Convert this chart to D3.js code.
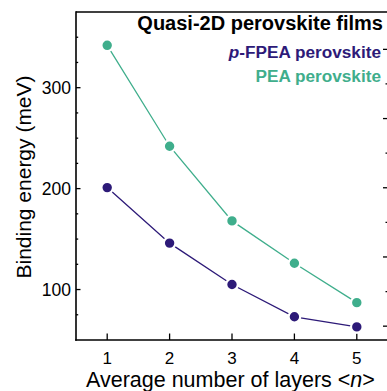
<!DOCTYPE html>
<html>
<head>
<meta charset="utf-8">
<script src="https://cdn.jsdelivr.net/npm/d3@7"></script>
<style>
  html, body { margin: 0; padding: 0; background: #fff; }
  svg { display: block; font-family: "Liberation Sans", Arial, Helvetica, sans-serif; }
</style>
</head>
<body>
<svg id="chart" width="387" height="391"></svg>
<script>
// Average number of layers <n>
const layers = [1, 2, 3, 4, 5];
// Exciton binding energy (meV)
const fpeaEnergy = [201, 146, 105, 73, 63];
const peaEnergy = [342, 242, 168, 126, 87];

const xTicks = [1, 2, 3, 4, 5];
const yMajorTicks = [100, 200, 300];
const yMinorTicks = [75, 125, 150, 175, 225, 250, 275, 325, 350];
// secondary (right) axis ticks, unlabeled
const rightMajorTicks = [1, 2, 3, 4, 5];
const rightMinorTicks = [1.5, 2.5, 3.5, 4.5];

const seriesNames = ["p-FPEA perovskite", "PEA perovskite"];
const titleText = "Quasi-2D perovskite films";

const colors = { fpea: "#2d1a78", pea: "#3fae8c" };

(function draw() {
  const svg = d3.select("#chart");
  const mLeft = 76, mRight = 388, mTop = 12, mBottom = 340;

  const x = d3.scaleLinear().domain([0.5, 5.5]).range([mLeft, mRight]);
  const y = d3.scaleLinear().domain([50, 375]).range([mBottom, mTop]);
  const y2 = d3.scaleLinear().domain([0.8, 5.54]).range([mBottom, mTop]);

  // frame
  const frame = svg.append("g").attr("stroke", "#000").attr("stroke-width", 1.6).attr("fill", "none");
  frame.append("line").attr("x1", mLeft).attr("x2", mLeft).attr("y1", mTop - 0.8).attr("y2", mBottom + 0.8);
  frame.append("line").attr("x1", mLeft).attr("x2", mRight + 2).attr("y1", mTop).attr("y2", mTop);
  frame.append("line").attr("x1", mLeft - 0.8).attr("x2", mRight + 2).attr("y1", mBottom).attr("y2", mBottom);
  frame.append("line").attr("x1", mRight).attr("x2", mRight).attr("y1", mTop).attr("y2", mBottom);

  // left axis, inward ticks
  const yAxis = svg.append("g").attr("transform", `translate(${mLeft},0)`);
  yAxis.selectAll("line.maj").data(yMajorTicks).join("line").attr("class", "maj")
    .attr("x1", 0).attr("x2", 4.5).attr("y1", d => y(d)).attr("y2", d => y(d))
    .attr("stroke", "#000").attr("stroke-width", 1.3);
  yAxis.selectAll("line.min").data(yMinorTicks).join("line").attr("class", "min")
    .attr("x1", 0).attr("x2", 2.2).attr("y1", d => y(d)).attr("y2", d => y(d))
    .attr("stroke", "#000").attr("stroke-width", 1.3);
  yAxis.selectAll("text").data(yMajorTicks).join("text")
    .attr("x", -5).attr("y", d => y(d)).attr("dy", "0.36em")
    .attr("text-anchor", "end").attr("font-size", 17.5).attr("fill", "#000")
    .text(d => d);

  // bottom axis, inward ticks
  const xAxis = svg.append("g").attr("transform", `translate(0,${mBottom})`);
  xAxis.selectAll("line").data(xTicks).join("line")
    .attr("x1", d => x(d)).attr("x2", d => x(d)).attr("y1", 0).attr("y2", -6.5)
    .attr("stroke", "#000").attr("stroke-width", 1.3);
  xAxis.selectAll("text").data(xTicks).join("text")
    .attr("x", d => x(d)).attr("y", 23.8)
    .attr("text-anchor", "middle").attr("font-size", 17).attr("fill", "#000")
    .text(d => d);

  // right axis, inward ticks
  const rAxis = svg.append("g").attr("transform", `translate(${mRight},0)`);
  rAxis.selectAll("line.maj").data(rightMajorTicks).join("line").attr("class", "maj")
    .attr("x1", 0).attr("x2", -5).attr("y1", d => y2(d)).attr("y2", d => y2(d))
    .attr("stroke", "#000").attr("stroke-width", 1.3);
  rAxis.selectAll("line.min").data(rightMinorTicks).join("line").attr("class", "min")
    .attr("x1", 0).attr("x2", -2.5).attr("y1", d => y2(d)).attr("y2", d => y2(d))
    .attr("stroke", "#000").attr("stroke-width", 1.3);

  // axis titles
  svg.append("text")
    .attr("transform", `translate(31,${(mTop + mBottom) / 2 + 1}) rotate(-90)`)
    .attr("text-anchor", "middle").attr("font-size", 21).attr("fill", "#000")
    .text("Binding energy (meV)");

  const xt = svg.append("text")
    .attr("x", 86).attr("y", 387)
    .attr("font-size", 21.5).attr("fill", "#000");
  xt.append("tspan").text("Average number of layers <");
  xt.append("tspan").attr("font-style", "italic").text("n");
  xt.append("tspan").text(">");

  // series
  const line = d3.line().x(d => x(d[0])).y(d => y(d[1]));
  const series = [
    { key: "pea", values: peaEnergy },
    { key: "fpea", values: fpeaEnergy }
  ];
  series.forEach(s => {
    const pts = layers.map((n, i) => [n, s.values[i]]);
    svg.append("path").datum(pts).attr("d", line)
      .attr("fill", "none").attr("stroke", colors[s.key]).attr("stroke-width", 1.3);
    svg.append("g").selectAll("circle").data(pts).join("circle")
      .attr("cx", d => x(d[0])).attr("cy", d => y(d[1])).attr("r", 5.8)
      .attr("fill", colors[s.key]).attr("stroke", "#fff").attr("stroke-width", 2.2);
  });

  // title and legend
  svg.append("text")
    .attr("x", 383).attr("y", 30).attr("text-anchor", "end")
    .attr("font-size", 20).attr("font-weight", "bold").attr("fill", "#000")
    .text(titleText);

  const l1 = svg.append("text")
    .attr("x", 381).attr("y", 58).attr("text-anchor", "end")
    .attr("font-size", 17.2).attr("font-weight", "bold").attr("fill", colors.fpea);
  l1.append("tspan").attr("font-style", "italic").text(seriesNames[0].slice(0, 1));
  l1.append("tspan").text(seriesNames[0].slice(1));

  svg.append("text")
    .attr("x", 381).attr("y", 82).attr("text-anchor", "end")
    .attr("font-size", 17.2).attr("font-weight", "bold").attr("fill", colors.pea)
    .text(seriesNames[1]);
})();
</script>
</body>
</html>
